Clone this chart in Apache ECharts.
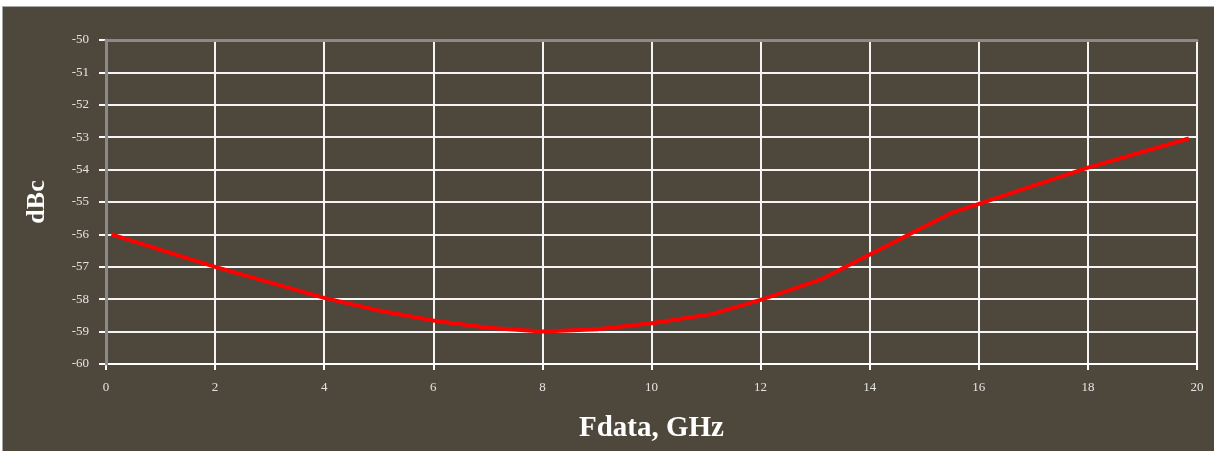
<!DOCTYPE html>
<html>
<head>
<meta charset="utf-8">
<script src="https://cdn.jsdelivr.net/npm/echarts@6/dist/echarts.min.js"></script>
<style>
html,body{margin:0;padding:0;background:#ffffff;width:1214px;height:451px;overflow:hidden;}
#outer{position:absolute;left:2px;top:6px;width:1212px;height:445px;box-sizing:border-box;border-top:1px solid #a8a8a8;border-left:1px solid #a8a8a8;background:#4e483c;}
#c{width:1211px;height:444px;}
</style>
</head>
<body>
<div id="outer"><div id="c"></div></div>
<script>
// Data
var freqGHz = [0.1, 2, 4, 5, 6, 7, 8, 9, 10, 11.1, 12, 13.1, 14, 15.5, 16, 18, 19.85];
var dBcValues = [-56, -57, -57.96, -58.35, -58.66, -58.88, -59.0, -58.93, -58.74, -58.46, -58.02, -57.39, -56.62, -55.33, -55.06, -53.94, -53.04];
var xTicks = [0, 2, 4, 6, 8, 10, 12, 14, 16, 18, 20];
var yTicks = [-60, -59, -58, -57, -56, -55, -54, -53, -52, -51, -50];
var xName = 'Fdata, GHz';
var yName = 'dBc';

var points = freqGHz.map(function (x, i) { return [x, dBcValues[i]]; });
var serif = '"Liberation Serif", "Times New Roman", serif';

var chart = echarts.init(document.getElementById('c'), null, {renderer: 'canvas'});
chart.setOption({
  backgroundColor: 'transparent',
  animation: false,
  grid: {left: 103, top: 33, right: 17, bottom: 87, containLabel: false},
  xAxis: [{
    type: 'value',
    min: xTicks[0], max: xTicks[xTicks.length - 1], interval: 2,
    name: xName, nameLocation: 'middle', nameGap: 50,
    nameTextStyle: {color: '#ffffff', fontFamily: serif, fontWeight: 'bold', fontSize: 29},
    axisLine: {show: true, onZero: false, lineStyle: {color: '#ffffff', width: 2}},
    axisTick: {show: true, length: 6, lineStyle: {color: '#ffffff', width: 2}},
    axisLabel: {color: '#e4e4e4', fontFamily: serif, fontSize: 13, margin: 17},
    splitLine: {show: true, lineStyle: {color: '#f4f4f4', width: 2}}
  }, {
    type: 'value', position: 'top',
    min: xTicks[0], max: xTicks[xTicks.length - 1], interval: 2,
    z: 5,
    axisLine: {show: true, lineStyle: {color: '#8a8a8a', width: 3}},
    axisTick: {show: false}, axisLabel: {show: false}, splitLine: {show: false}
  }],
  yAxis: [{
    type: 'value',
    min: yTicks[0], max: yTicks[yTicks.length - 1], interval: 1,
    name: yName, nameLocation: 'middle', nameGap: 56, nameRotate: 90,
    nameTextStyle: {color: '#ffffff', fontFamily: serif, fontWeight: 'bold', fontSize: 26},
    axisLine: {show: true, onZero: false, lineStyle: {color: '#ffffff', width: 2}},
    axisTick: {show: true, length: 7, lineStyle: {color: '#ffffff', width: 2}},
    axisLabel: {color: '#e4e4e4', fontFamily: serif, fontSize: 13, margin: 17},
    splitLine: {show: true, lineStyle: {color: '#f4f4f4', width: 2}}
  }, {
    type: 'value', position: 'right',
    min: yTicks[0], max: yTicks[yTicks.length - 1], interval: 1,
    z: 5,
    axisLine: {show: true, lineStyle: {color: '#8a8a8a', width: 3}},
    axisTick: {show: false}, axisLabel: {show: false}, splitLine: {show: false}
  }],
  series: [{
    type: 'line',
    xAxisIndex: 0, yAxisIndex: 0,
    data: points,
    showSymbol: false,
    smooth: false,
    z: 10,
    lineStyle: {color: '#ff0000', width: 4}
  }]
});
</script>
</body>
</html>
